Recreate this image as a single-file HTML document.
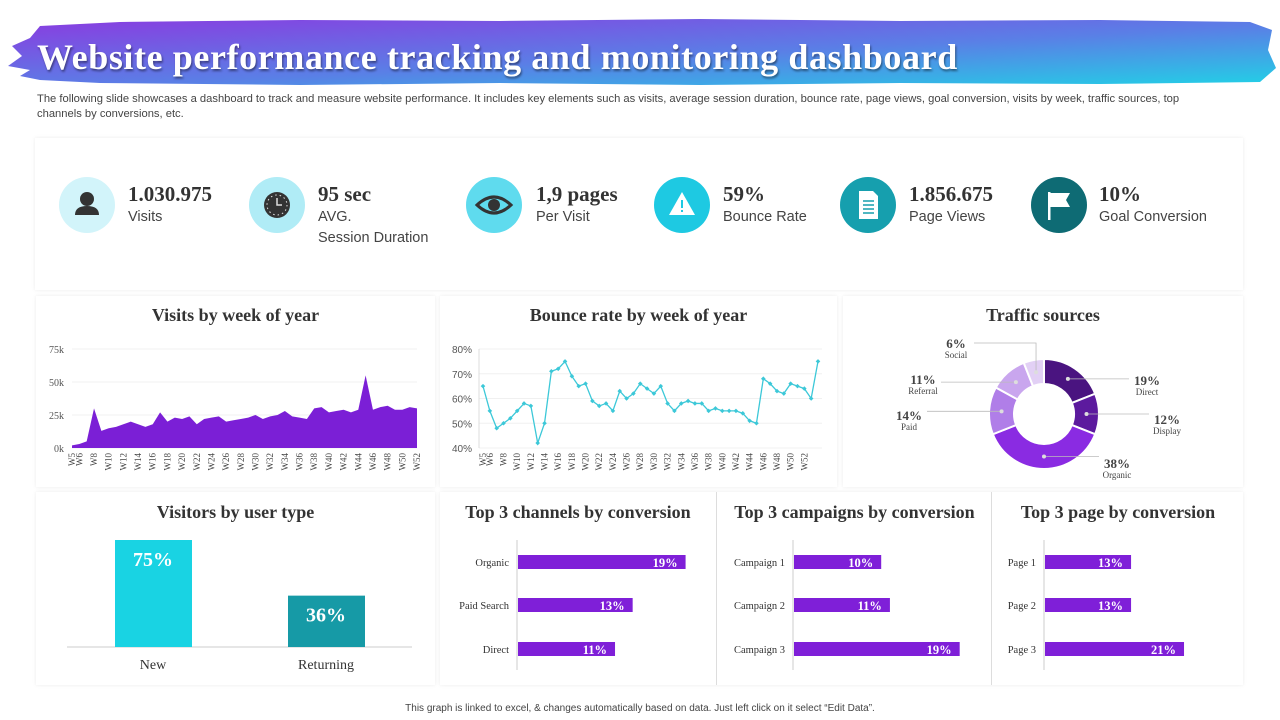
<!DOCTYPE html>
<html><head><meta charset="utf-8">
<style>
*{margin:0;padding:0;box-sizing:border-box}
body{width:1280px;height:720px;background:#fff;position:relative;overflow:hidden;font-family:"Liberation Sans",sans-serif}
.abs{position:absolute}
.panel{position:absolute;background:#fff;box-shadow:0 0 4px rgba(0,0,0,0.08)}
.ptitle{position:absolute;left:0;right:0;text-align:center;font-family:"Liberation Serif",serif;font-weight:bold;font-size:18px;color:#333}
.kc{position:absolute;width:56px;height:56px;border-radius:50%}
.kv{position:absolute;font-family:"Liberation Serif",serif;font-weight:bold;font-size:21px;color:#333}
.kl{position:absolute;font-size:14.5px;color:#444;line-height:21px}
</style></head><body>
<svg class="abs" style="left:0;top:0" width="1280" height="130">
<defs><linearGradient id="bg" x1="0" y1="0" x2="1" y2="1" gradientUnits="objectBoundingBox">
<stop offset="0" stop-color="#8a3be0"/><stop offset="0.55" stop-color="#5a7fe6"/><stop offset="1" stop-color="#22d0e6"/></linearGradient></defs>
<path d="M40,26 L120,22 L300,20 L500,21 L700,19 L900,21 L1100,20 L1250,22 L1272,30 L1268,50 L1276,68 L1260,82 L1100,84 L900,83 L700,85 L500,83 L300,85 L100,83 L40,80 L20,76 L30,70 L8,66 L22,56 L12,46 L30,38 Z" fill="url(#bg)"/>
</svg>
<div class="abs" style="left:37px;top:36px;font-family:'Liberation Serif',serif;font-weight:bold;font-size:36px;color:#fff;text-shadow:1px 2px 2px rgba(0,0,0,0.45);letter-spacing:0.6px">Website performance tracking and monitoring dashboard</div>
<div class="abs" style="left:37px;top:92px;width:1185px;font-size:11.2px;line-height:15px;color:#444">The following slide showcases a dashboard to track and measure website performance. It includes key elements such as visits, average session duration, bounce rate, page views, goal conversion, visits by week, traffic sources, top channels by conversions, etc.</div>

<div class="panel" style="left:35px;top:138px;width:1208px;height:152px"></div>
<div class="kc" style="left:59px;top:177px;background:#d2f4fa"><svg width="56" height="56"><circle cx="28" cy="22" r="7" fill="#333"/><path d="M16,38 Q16,29 28,29 Q40,29 40,38 Z" fill="#333"/></svg></div>
<div class="kv" style="left:128px;top:182px">1.030.975</div>
<div class="kl" style="left:128px;top:207px">Visits</div>
<div class="kc" style="left:249px;top:177px;background:#b0ecf6"><svg width="56" height="56"><circle cx="28" cy="28" r="13" fill="#333"/><circle cx="28" cy="28" r="10" fill="none" stroke="#ddd" stroke-width="1" stroke-dasharray="1.5 3"/><path d="M28,21 V28 H33" stroke="#ddd" stroke-width="1.5" fill="none"/></svg></div>
<div class="kv" style="left:318px;top:182px">95 sec</div>
<div class="kl" style="left:318px;top:207px">AVG.<br>Session Duration</div>
<div class="kc" style="left:466px;top:177px;background:#5fdbee"><svg width="56" height="56"><path d="M11,28 Q28,12 45,28 Q28,44 11,28 Z" fill="none" stroke="#333" stroke-width="3"/><circle cx="28" cy="28" r="6" fill="#333"/></svg></div>
<div class="kv" style="left:536px;top:182px">1,9 pages</div>
<div class="kl" style="left:536px;top:207px">Per Visit</div>
<div class="kc" style="left:654px;top:177px;background:#1ec9e2"><svg width="56" height="56"><path d="M28,15 L41,38 H15 Z" fill="#fff"/><rect x="27" y="23" width="2" height="8" fill="#1ec9e2"/><rect x="27" y="33" width="2" height="2" fill="#1ec9e2"/></svg></div>
<div class="kv" style="left:723px;top:182px">59%</div>
<div class="kl" style="left:723px;top:207px">Bounce Rate</div>
<div class="kc" style="left:840px;top:177px;background:#169fae"><svg width="56" height="56"><path d="M19,14 H33 L38,19 V42 H19 Z" fill="#fff"/><path d="M23,24 H34 M23,28 H34 M23,32 H34 M23,36 H34" stroke="#169fae" stroke-width="1.5"/></svg></div>
<div class="kv" style="left:909px;top:182px">1.856.675</div>
<div class="kl" style="left:909px;top:207px">Page Views</div>
<div class="kc" style="left:1031px;top:177px;background:#0e6b74"><svg width="56" height="56"><rect x="17" y="15" width="2.5" height="28" fill="#fff"/><path d="M19,16 H39 L35,23 L39,30 H19 Z" fill="#fff"/></svg></div>
<div class="kv" style="left:1099px;top:182px">10%</div>
<div class="kl" style="left:1099px;top:207px">Goal Conversion</div>

<div class="panel" style="left:36px;top:296px;width:399px;height:191px"><div class="ptitle" style="top:9px">Visits by week of year</div></div>
<div class="panel" style="left:440px;top:296px;width:397px;height:191px"><div class="ptitle" style="top:9px">Bounce rate by week of year</div></div>
<div class="panel" style="left:843px;top:296px;width:400px;height:191px"><div class="ptitle" style="top:9px">Traffic sources</div></div>
<div class="panel" style="left:36px;top:492px;width:399px;height:193px"><div class="ptitle" style="top:10px">Visitors by user type</div></div>
<div class="panel" style="left:440px;top:492px;width:803px;height:193px">
<div class="ptitle" style="top:10px;left:0;width:276px">Top 3 channels by conversion</div>
<div class="ptitle" style="top:10px;left:278px;width:273px">Top 3 campaigns by conversion</div>
<div class="ptitle" style="top:10px;left:553px;width:250px">Top 3 page by conversion</div>
<div class="abs" style="left:276px;top:0;width:1px;height:193px;background:#ddd"></div>
<div class="abs" style="left:551px;top:0;width:1px;height:193px;background:#ddd"></div>
</div>

<svg id="ch" class="abs" style="left:0;top:0" width="1280" height="720"></svg>
<div class="abs" style="left:0;width:1280px;top:703px;text-align:center;font-size:10px;color:#444">This graph is linked to excel, &amp; changes automatically based on data. Just left click on it select “Edit Data”.</div>

<script>
const visits=[2,3,5,30,13,15,16,18,20,18,16,18,27,20,23,22,24,18,22,23,24,20,21,22,23,25,22,24,25,28,24,23,22,30,31,27,28,29,27,29,55,29,31,32,29,29,31,30];
const visitsTicks=[0,25,50,75];
const bounce=[65,55,48,50,52,55,58,57,42,50,71,72,75,69,65,66,59,57,58,55,63,60,62,66,64,62,65,58,55,58,59,58,58,55,56,55,55,55,54,51,50,68,66,63,62,66,65,64,60,75];
const bounceTicks=[40,50,60,70,80];
const trafficLabels=["Direct","Display","Organic","Paid","Referral","Social"];
const trafficValues=[19,12,38,14,11,6];
const userTypes=["New","Returning"];
const userValues=[75,36];
const channels=["Organic","Paid Search","Direct"];
const channelValues=[19,13,11];
const campaigns=["Campaign 1","Campaign 2","Campaign 3"];
const campaignValues=[10,11,19];
const pages=["Page 1","Page 2","Page 3"];
const pageValues=[13,13,21];

const svg=document.getElementById('ch');
const NS='http://www.w3.org/2000/svg';
function mk(tag,attrs,txt){const e=document.createElementNS(NS,tag);for(const k in attrs)e.setAttribute(k,attrs[k]);if(txt!==undefined)e.textContent=txt;svg.appendChild(e);return e;}
const serif='"Liberation Serif",serif';

(function(){
 const x0=72,x1=417,yT=349,yB=448,n=visits.length;
 const xs=i=>x0+i*(x1-x0)/(n-1), ys=v=>yB-(v/75)*(yB-yT);
 visitsTicks.forEach(t=>{const g=mk('line',{x1:x0,x2:x1,y1:ys(t),y2:ys(t),stroke:'#f0f0f0'});
  const l=mk('text',{x:64,y:ys(t)+4,'text-anchor':'end','font-size':10,'font-family':serif,fill:'#555'},t+'k');});
 let d='M'+xs(0)+','+yB;visits.forEach((v,i)=>d+=' L'+xs(i)+','+ys(v));d+=' L'+xs(n-1)+','+yB+' Z';
 const a=mk('path',{d:d,fill:'#7b1fd6'});
 visits.forEach((v,i)=>{const w=i+5;if(w===5||w%2===0){const x=xs(i);const t=mk('text',{x:0,y:0,transform:`translate(${x+3},${453}) rotate(-90)`,'text-anchor':'end','font-size':9,'font-family':serif,fill:'#444'},'W'+w);}});
})();

(function(){
 const x0=483,x1=818,yT=349,yB=448,n=bounce.length;
 const xs=i=>x0+i*(x1-x0)/(n-1), ys=v=>yB-((v-40)/40)*(yB-yT);
 bounceTicks.forEach(t=>{const g=mk('line',{x1:479,x2:822,y1:ys(t),y2:ys(t),stroke:'#f0f0f0'});
  const l=mk('text',{x:472,y:ys(t)+4,'text-anchor':'end','font-size':10,fill:'#555'},t+'%');});
 const ax=mk('line',{x1:479,x2:479,y1:349,y2:448,stroke:'#ddd'});
 const pts=bounce.map((v,i)=>xs(i)+','+ys(v)).join(' ');
 const p=mk('polyline',{points:pts,fill:'none',stroke:'#3cc8d8','stroke-width':1.3});
 bounce.forEach((v,i)=>{const x=xs(i),y=ys(v);const m=mk('path',{d:`M${x},${y-2.3} L${x+2.3},${y} L${x},${y+2.3} L${x-2.3},${y} Z`,fill:'#3cc8d8'});
  const w=i+5;if((w===5||w%2===0)&&w<=52){const t=mk('text',{x:0,y:0,transform:`translate(${x+3},${453}) rotate(-90)`,'text-anchor':'end','font-size':9,'font-family':serif,fill:'#444'},'W'+w);}});
})();

(function(){
 const cx=1044,cy=414,R=55,r=30;
 const cols=['#4a1480','#5c1a9e','#8a2be2','#b07ee8','#c9a6ee','#e2d0f5'];
 const lab=[[1133,385,'start'],[1153,424,'start'],[1103,468,'start'],[923,420,'end'],[937,384,'end'],[970,348,'end']];
 const tot=trafficValues.reduce((a,b)=>a+b,0);let a0=-Math.PI/2;
 trafficValues.forEach((v,i)=>{const a1=a0+v/tot*2*Math.PI;const pt=(rad,a)=>[cx+rad*Math.cos(a),cy+rad*Math.sin(a)];
  const [p1,p2,p3,p4]=[pt(R,a0),pt(R,a1),pt(r,a1),pt(r,a0)];const lg=(a1-a0)>Math.PI?1:0;
  const s=mk('path',{d:`M${p1} A${R},${R} 0 ${lg} 1 ${p2} L${p3} A${r},${r} 0 ${lg} 0 ${p4} Z`,fill:cols[i],stroke:'#fff','stroke-width':2});
  
  const am=(a0+a1)/2;const dp=pt((R+r)/2,am);
  const L=lab[i];const lx=L[2]==='start'?L[0]-4:L[0]+4;
  const ln=mk('polyline',{points:`${dp} ${i===5?dp[0]+','+343+' '+(lx)+','+343:lx+','+dp[1]}`,fill:'none',stroke:'#bbb','stroke-width':0.8});
  mk('circle',{cx:dp[0],cy:dp[1],r:2,fill:'#ddd'});
  const tx=L[2]==='start'?L[0]+14:L[0]-14;
  const t1=mk('text',{x:tx,y:L[1],'text-anchor':'middle','font-size':13,'font-weight':'bold','font-family':serif,fill:'#444'},v+'%');
  const t2=mk('text',{x:tx,y:L[1]+10,'text-anchor':'middle','font-size':9,'font-family':serif,fill:'#444'},trafficLabels[i]);
  a0=a1;});
})();

(function(){
 const base=647,h75=107,cols=['#19d3e3','#169aa6'],xc=[153,326];
 const b=mk('line',{x1:67,x2:412,y1:base,y2:base,stroke:'#ccc'});
 userValues.forEach((v,i)=>{const h=v/75*h75;const r=mk('rect',{x:xc[i]-38,y:base-h,width:77,height:h,fill:cols[i]});
  const t=mk('text',{x:xc[i],y:base-h+26,'text-anchor':'middle','font-size':20,'font-weight':'bold','font-family':serif,fill:'#fff'},v+'%');
  const c=mk('text',{x:xc[i],y:669,'text-anchor':'middle','font-size':14,'font-family':serif,fill:'#333'},userTypes[i]);});
})();

function hbars(cats,vals,x0,scale,labX,key){
 const ys=[562,605,649];
 const ax=mk('line',{x1:x0-1,x2:x0-1,y1:540,y2:670,stroke:'#ccc'});
 vals.forEach((v,i)=>{const w=v*scale;const r=mk('rect',{x:x0,y:ys[i]-7,width:w,height:14,fill:'#7f1fd8'});
  const t=mk('text',{x:x0+w-8,y:ys[i]+5,'text-anchor':'end','font-size':12.5,'font-weight':'bold','font-family':serif,fill:'#fff'},v+'%');
  const c=mk('text',{x:labX,y:ys[i]+4,'text-anchor':'end','font-size':10.5,'font-family':serif,fill:'#333'},cats[i]);});
}
hbars(channels,channelValues,518,8.82,509,'channel');
hbars(campaigns,campaignValues,794,8.72,785,'campaign');
hbars(pages,pageValues,1045,6.62,1036,'page');
</script>
</body></html>
